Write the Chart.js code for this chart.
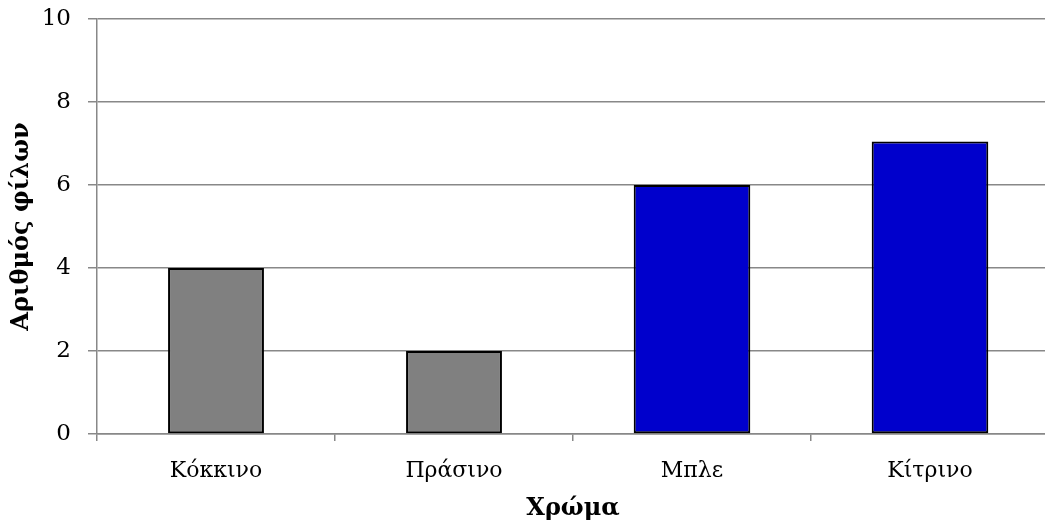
<!DOCTYPE html>
<html>
<head>
<meta charset="utf-8">
<script src="https://cdn.jsdelivr.net/npm/chart.js@4"></script>
<style>
  html, body { margin: 0; padding: 0; background: #fff; overflow: hidden; }
  #wrap { width: 1052px; height: 524px; }
</style>
</head>
<body>
<div id="wrap"><canvas id="barChart"></canvas></div>
<script>
// ── data ──
const colours  = ['Κόκκινο', 'Πράσινο', 'Μπλε', 'Κίτρινο'];
const friends  = [4, 2, 6, 7.05];
const isBlue   = [false, false, true, true];
const yTicks   = [0, 2, 4, 6, 8, 10];

const FONT = "'DejaVu Serif', 'Liberation Serif', serif";
const GRID = '#888888';

const grayData = friends.map((v, i) => isBlue[i] ? null : v);
const blueData = friends.map((v, i) => isBlue[i] ? v : null);

new Chart(document.getElementById('barChart').getContext('2d'), {
  type: 'bar',
  data: {
    labels: colours,
    datasets: [
      { data: grayData, backgroundColor: '#808080', borderColor: '#000', borderWidth: 2,
        borderSkipped: false, grouped: false, categoryPercentage: 1, barPercentage: 0.403 },
      { data: blueData, backgroundColor: '#0000cc', borderColor: '#000', borderWidth: 2,
        borderSkipped: false, grouped: false, categoryPercentage: 1, barPercentage: 0.49 }
    ]
  },
  options: {
    responsive: true,
    maintainAspectRatio: false,
    animation: false,
    layout: { padding: { top: 19, right: 3, left: 0, bottom: 0 } },
    plugins: { legend: { display: false }, tooltip: { enabled: false } },
    scales: {
      x: {
        offset: true,
        grid: { offset: true, drawOnChartArea: false, color: GRID, lineWidth: 1.5, tickLength: 7 },
        border: { color: GRID, width: 1.5 },
        ticks: { font: { family: FONT, size: 22 }, color: '#000', padding: 17 },
        title: { display: true, text: 'Χρώμα', color: '#000',
                 font: { family: FONT, size: 24, weight: 'bold' }, padding: { top: 0, bottom: 1 } },
        afterFit: s => { s.height = 90; s.paddingLeft = 0; s.paddingRight = 0; }
      },
      y: {
        min: 0, max: 10,
        afterBuildTicks: s => { s.ticks = yTicks.map(v => ({ value: v })); },
        grid: { color: GRID, lineWidth: 1.5, tickLength: 9 },
        border: { color: GRID, width: 1.5 },
        ticks: { font: { family: FONT, size: 23 }, color: '#000', padding: 17 },
        title: { display: true, text: 'Αριθμός φίλων', color: '#000',
                 font: { family: FONT, size: 24, weight: 'bold' }, padding: { top: 7, bottom: 0 } },
        afterFit: s => { s.width = 97; s.paddingTop = 0; s.paddingBottom = 0; }
      }
    }
  }
});
</script>
</body>
</html>
